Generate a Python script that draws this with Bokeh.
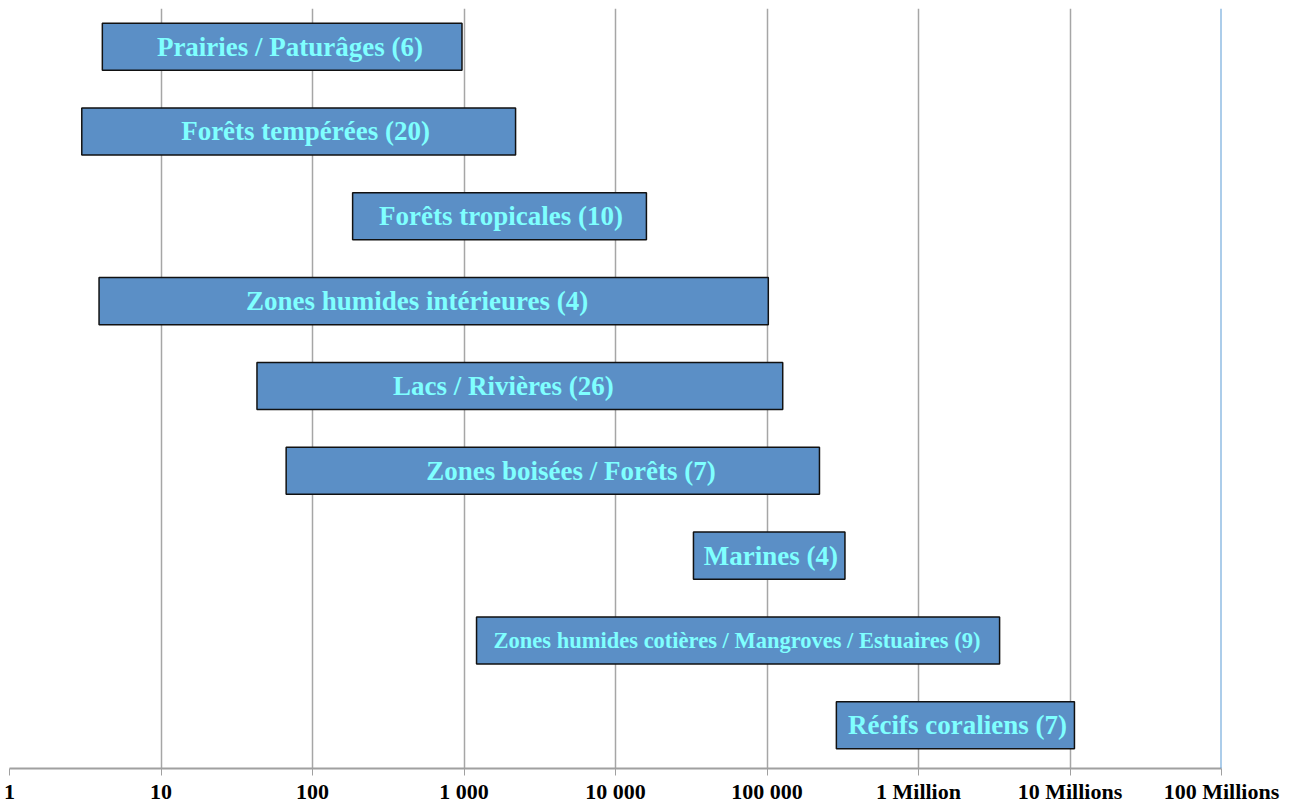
from bokeh.plotting import figure
from bokeh.models import FixedTicker, Range1d, Span, ColumnDataSource
from bokeh.core.properties import value
from bokeh.embed import file_html
from bokeh.resources import INLINE

labels = ["Prairies / Paturâges (6)", "Forêts tempérées (20)", "Forêts tropicales (10)",
          "Zones humides intérieures (4)", "Lacs / Rivières (26)", "Zones boisées / Forêts (7)",
          "Marines (4)", "Zones humides cotières / Mangroves / Estuaires (9)", "Récifs coraliens (7)"]
low = [4.1, 3.0, 184, 3.9, 43, 67, 32700, 1210, 287000]
high = [970, 2190, 16000, 102000, 127000, 222000, 327000, 3430000, 10700000]
label_at = [71, 90, 1755, 490, 1820, 5080, 106000, 63400, 1810000]
label_sizes = ["27px", "27px", "27px", "27px", "27px", "27px", "27px", "22.5px", "27px"]
tick_values = [1, 10, 100, 1000, 10000, 100000, 1000000, 10000000, 100000000]
tick_labels = ["1", "10", "100", "1 000", "10 000", "100 000", "1 Million", "10 Millions", "100 Millions"]

idx = list(range(len(labels)))
src = ColumnDataSource(dict(y=idx, left=low, right=high, lx=label_at, text=labels, size=label_sizes))

p = figure(width=1289, height=806, x_axis_type="log", output_backend="svg",
           toolbar_location=None, x_range=Range1d(1, 1e8), y_range=Range1d(8.51, -0.45),
           min_border_left=9, min_border_right=68, min_border_top=8, min_border_bottom=35)
p.outline_line_color = None
p.background_fill_color = "white"

p.hbar(y="y", left="left", right="right", height=0.555, source=src,
       fill_color="#5B8FC6", line_color="#111111", line_width=1.5)
p.text(x="lx", y="y", text="text", source=src, text_align="center", text_baseline="middle",
       text_font=value("Liberation Serif"), text_font_style="bold", text_font_size="size",
       text_color="#7FFFFF")

p.xaxis.ticker = FixedTicker(ticks=tick_values, minor_ticks=[])
p.xaxis.major_label_overrides = {v: l for v, l in zip(tick_values, tick_labels)}
p.xaxis.major_label_text_font = "Liberation Serif"
p.xaxis.major_label_text_font_style = "bold"
p.xaxis.major_label_text_font_size = "22px"
p.xaxis.major_label_text_color = "black"
p.xaxis.major_label_standoff = 3
p.xaxis.axis_line_color = "#A0A0A0"
p.xaxis.axis_line_width = 2
p.xaxis.major_tick_line_color = "#A0A0A0"
p.xaxis.major_tick_out = 7
p.xaxis.major_tick_in = 0
p.xaxis.minor_tick_line_color = None
p.yaxis.visible = False
p.xgrid.grid_line_color = "#A6A6A6"
p.xgrid.grid_line_width = 1.5
p.ygrid.grid_line_color = None
p.xgrid.level = "underlay"

p.add_layout(Span(location=1e8, dimension="height", line_color="#5B9BD5", line_width=2))

open("out.html", "w").write(file_html(p, INLINE))
